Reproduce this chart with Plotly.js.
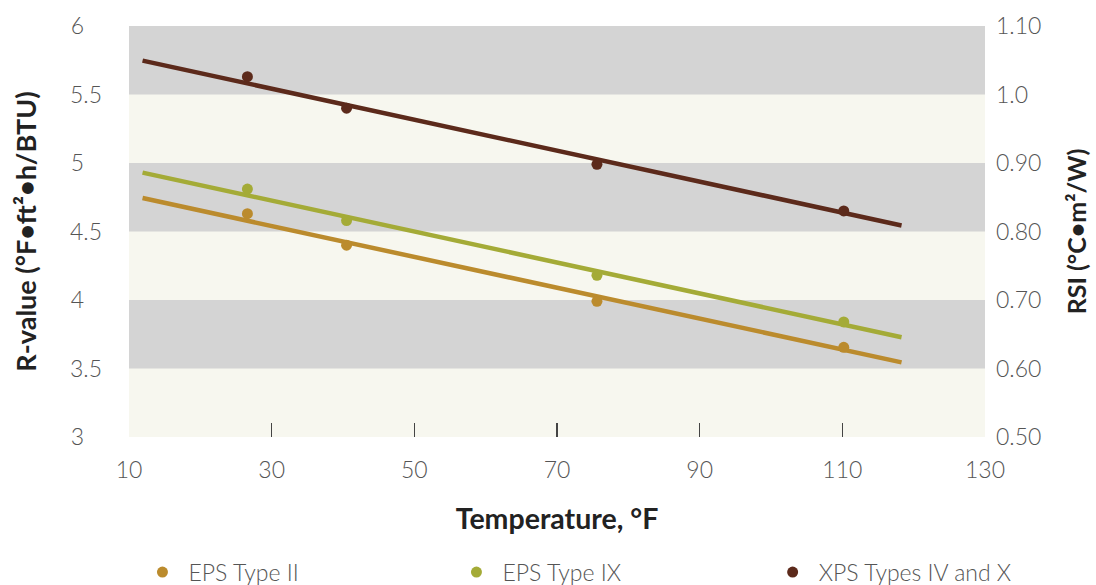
<!DOCTYPE html>
<html>
<head>
<meta charset="utf-8">
<script src="https://cdn.plot.ly/plotly-3.0.1.min.js"></script>
<style>html,body{margin:0;padding:0;background:#fff;}#chart{width:1096px;height:585px;}</style>
</head>
<body>
<div id="chart"></div>
<script>
// ---- data ----
const seriesNames = ["EPS Type II", "EPS Type IX", "XPS Types IV and X"];
const seriesColors = ["#bb8b2d", "#a4ab37", "#5c2a1b"];
const tempF = [26.6, 40.5, 75.6, 110.2];
const epsII = [4.63, 4.40, 3.99, 3.655];
const epsIX = [4.81, 4.58, 4.18, 3.84];
const xps = [5.63, 5.40, 4.99, 4.65];
const fitX = [11.9, 118.3];
const fitEpsII = [4.744, 3.545];
const fitEpsIX = [4.93, 3.728];
const fitXps = [5.747, 4.544];
const xTickVals = [10, 30, 50, 70, 90, 110, 130];
const xMarkVals = [30, 50, 70, 90, 110];
const rTickVals = [3, 3.5, 4, 4.5, 5, 5.5, 6];
const rTickText = ["3\u2008\u2007", "3.5", "4\u2008\u2007", "4.5", "5\u2008\u2007", "5.5", "6\u2008\u2007"];
const rsiTickVals = [0.5, 0.6, 0.7, 0.8, 0.9, 1.0, 1.1];
const rsiTickText = ["0.50", "0.60", "0.70", "0.80", "0.90", "1.0", "1.10"];
const grayBands = [[5.5, 6], [4.5, 5], [3.5, 4]];

const points = [epsII, epsIX, xps];
const fits = [fitEpsII, fitEpsIX, fitXps];
const legendIds = ["legend", "legend2", "legend3"];
const legendX = [0.1245, 0.411, 0.6995];

const FONT = "Lato, 'Open Sans', sans-serif";
const traces = [];
for (let i = 0; i < 3; i++) {
  traces.push({
    x: fitX, y: fits[i], type: "scatter", mode: "lines",
    line: {color: seriesColors[i], width: 4.5}, showlegend: false, hoverinfo: "skip"
  });
}
for (let i = 0; i < 3; i++) {
  traces.push({
    x: tempF, y: points[i], type: "scatter", mode: "markers", name: seriesNames[i],
    marker: {color: seriesColors[i], size: 11}, legend: legendIds[i]
  });
}
traces.push({x: [10], y: [0.5], yaxis: "y2", type: "scatter", mode: "markers",
  marker: {opacity: 0}, showlegend: false, hoverinfo: "skip"});
traces.push({x: [10], y: [3], xaxis: "x2", type: "scatter", mode: "markers",
  marker: {opacity: 0}, showlegend: false, hoverinfo: "skip"});

const shapes = grayBands.map(b => ({
  type: "rect", xref: "paper", yref: "y", x0: 0, x1: 1, y0: b[0], y1: b[1],
  fillcolor: "#d4d4d4", line: {width: 0}, layer: "below"
}));

const tickFont = {family: FONT, size: 23, color: "#555555", weight: 300};
const titleFont = {family: FONT, size: 25, color: "#222222", weight: 700};

function legendCfg(x) {
  return {
    orientation: "h", xref: "container", yref: "container",
    x: x, xanchor: "left", y: 0.022, yanchor: "middle",
    font: {family: FONT, size: 23, color: "#555555", weight: 300},
    itemwidth: 42, bgcolor: "rgba(0,0,0,0)"
  };
}

const layout = {
  width: 1096, height: 585,
  margin: {l: 129, r: 111, t: 26, b: 148, pad: 0, autoexpand: false},
  paper_bgcolor: "#ffffff", plot_bgcolor: "#f7f7ef",
  showlegend: true,
  legend: legendCfg(legendX[0]),
  legend2: legendCfg(legendX[1]),
  legend3: legendCfg(legendX[2]),
  xaxis: {
    range: [10, 130], tickvals: xTickVals, ticks: "", showgrid: false, zeroline: false,
    showline: false, tickfont: tickFont, ticklabelstandoff: 17,
    title: {text: "Temperature, °F", font: Object.assign({}, titleFont, {size: 28.5}), standoff: 27}
  },
  xaxis2: {
    overlaying: "x", anchor: "y", side: "bottom", range: [10, 130],
    tickvals: xMarkVals, ticks: "inside", ticklen: 14, tickwidth: 1.3, tickcolor: "#444444",
    showticklabels: false, showgrid: false, zeroline: false, showline: false
  },
  yaxis: {
    range: [3, 6], tickvals: rTickVals, ticktext: rTickText, ticks: "",
    showgrid: false, zeroline: false, showline: false, tickfont: tickFont,
    ticklabelstandoff: 26,
    title: {text: "R-value (°F•ft²•h/BTU)", font: Object.assign({}, titleFont, {size: 27}), standoff: 25}
  },
  yaxis2: {
    overlaying: "y", side: "right", anchor: "x", range: [0.5, 1.1],
    tickvals: rsiTickVals, ticktext: rsiTickText, ticks: "",
    showgrid: false, zeroline: false, showline: false, tickfont: tickFont,
    ticklabelstandoff: 10,
    title: {text: "RSI (°C•m²/W)", font: titleFont, standoff: 28}
  },
  shapes: shapes
};

Plotly.newPlot("chart", traces, layout, {staticPlot: true, displayModeBar: false});
</script>
</body>
</html>
